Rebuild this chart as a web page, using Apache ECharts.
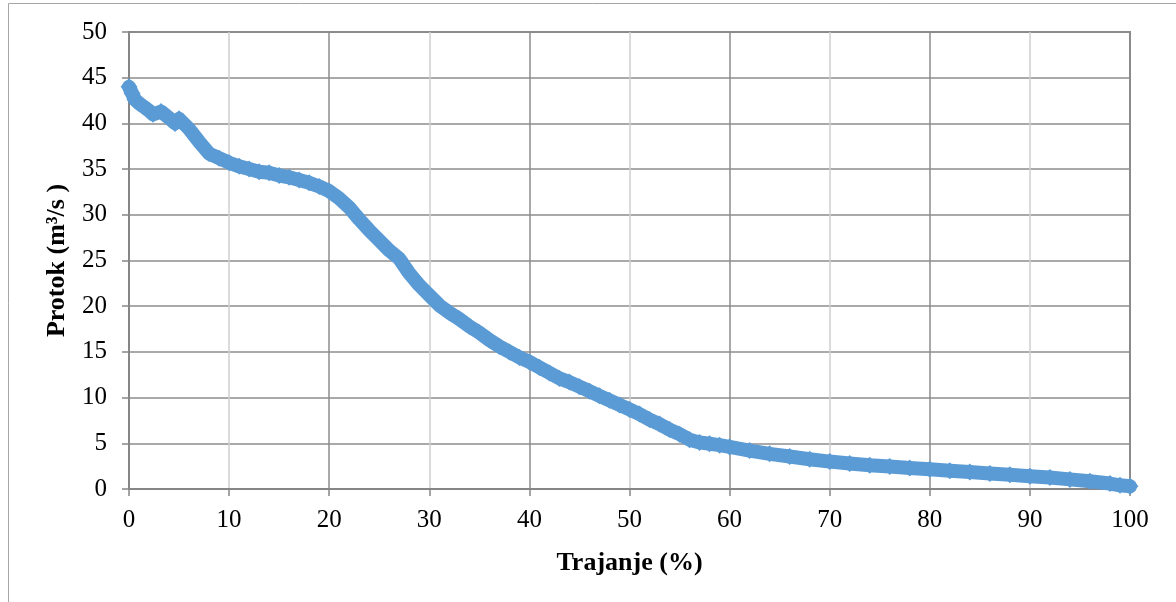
<!DOCTYPE html>
<html>
<head>
<meta charset="utf-8">
<script src="https://cdn.jsdelivr.net/npm/echarts@6/dist/echarts.min.js"></script>
<style>html,body{margin:0;padding:0;background:#fff}#c{width:1176px;height:602px}</style>
</head>
<body>
<div id="c"></div>
<script>
const duration = [0,0.3,0.6,1,1.5,2,2.4,3.2,4,4.6,5,6,7,8,9,10,11,12,13,14,15,16,17,18,19,20,21,22,23,24,25,26,27,28,29,30,31,32,33,34,35,36,37,38,39,40,41,42,43,44,45,46,47,48,49,50,51,52,53,54,55,56,57,58,59,60,62,64,66,68,70,72,74,76,78,80,82,84,86,88,90,92,94,96,98,99,100];
const flow = [44.0,43.3,42.6,42.2,41.8,41.4,41.0,41.3,40.6,40.0,40.5,39.4,38.0,36.7,36.2,35.7,35.3,35.0,34.7,34.6,34.3,34.1,33.8,33.5,33.1,32.6,31.8,30.8,29.5,28.3,27.2,26.1,25.2,23.6,22.3,21.2,20.1,19.3,18.6,17.8,17.1,16.3,15.6,15.0,14.4,13.9,13.3,12.7,12.1,11.7,11.2,10.7,10.2,9.7,9.2,8.7,8.2,7.6,7.1,6.5,6.0,5.4,5.1,4.95,4.8,4.6,4.2,3.85,3.55,3.25,3.0,2.8,2.6,2.45,2.3,2.15,2.0,1.85,1.7,1.55,1.4,1.25,1.05,0.85,0.6,0.4,0.3];
const xTicks = [0,10,20,30,40,50,60,70,80,90,100];
const yTicks = [0,5,10,15,20,25,30,35,40,45,50];
const xTitle = 'Trajanje (%)';
const yTitle = 'Protok (m³/s )';

const chart = echarts.init(document.getElementById('c'));
const font = 'Liberation Serif';
chart.setOption({
  animation: false,
  backgroundColor: '#fff',
  graphic: [{type:'rect', shape:{x:8.5,y:3.5,width:1300,height:800}, style:{fill:'none', stroke:'#a6a6a6', lineWidth:1}, silent:true}],
  grid: {left:129, right:46, top:32, bottom:113, show:true, borderColor:'#868686', borderWidth:2, backgroundColor:'transparent'},
  xAxis: {
    type:'value', min:0, max:100, interval:5,
    name: xTitle, nameLocation:'middle', nameGap:61,
    nameTextStyle:{fontFamily:font, fontSize:26, fontWeight:'bold', color:'#000'},
    axisLine:{show:true, lineStyle:{color:'#868686', width:2}},
    axisTick:{show:true, inside:false, length:7, customValues:xTicks, lineStyle:{color:'#868686', width:1.5}},
    axisLabel:{customValues:xTicks, margin:19, fontFamily:font, fontSize:25, color:'#000'},
    splitLine:{show:true, lineStyle:{color:['#8c8c8c','#cfcfcf'], width:1.5}}
  },
  yAxis: {
    type:'value', min:0, max:50, interval:5,
    name: yTitle, nameLocation:'middle', nameGap:59, nameRotate:90,
    nameTextStyle:{fontFamily:font, fontSize:26, fontWeight:'bold', color:'#000'},
    axisLine:{show:true, lineStyle:{color:'#868686', width:2}},
    axisTick:{show:true, inside:false, length:7, lineStyle:{color:'#868686', width:1.5}},
    axisLabel:{customValues:yTicks, margin:22, fontFamily:font, fontSize:25, color:'#000'},
    splitLine:{show:true, lineStyle:{color:'#8c8c8c', width:1.5}}
  },
  series: [{
    type:'line',
    data: duration.map((d,i)=>[d, flow[i]]),
    symbol:'diamond', symbolSize:17, showSymbol:true,
    itemStyle:{color:'#5B9BD5'},
    lineStyle:{color:'#5B9BD5', width:14, cap:'round', join:'round'},
    clip:false
  }]
});
</script>
</body>
</html>
